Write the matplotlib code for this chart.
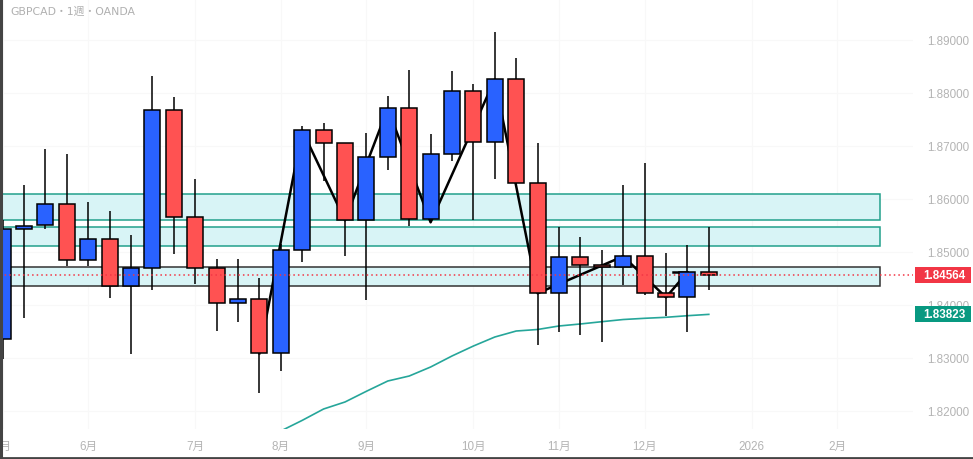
import matplotlib
matplotlib.use("Agg")
import matplotlib.pyplot as plt
from matplotlib.patches import Rectangle
from matplotlib.lines import Line2D
from matplotlib.ticker import FormatStrFormatter
import numpy as np

# GBPCAD weekly candles (OANDA), one per week from early May 2025
opens = [1.83353, 1.85428, 1.85504, 1.85900, 1.84843, 1.85240, 1.84353, 1.84698,
         1.87674, 1.85655, 1.84698, 1.84032, 1.84108, 1.83089, 1.85032, 1.87296,
         1.87051, 1.85598, 1.86787, 1.87711, 1.85617, 1.86843, 1.88032, 1.87070,
         1.88258, 1.86296, 1.84221, 1.84900, 1.84749, 1.84711, 1.84919, 1.84221,
         1.84145, 1.84617]
highs = [1.85604, 1.86264, 1.86943, 1.86849, 1.85943, 1.85774, 1.85321, 1.88315,
         1.87919, 1.86377, 1.84868, 1.84868, 1.84509, 1.85151, 1.87377, 1.87434,
         1.87057, 1.87245, 1.87943, 1.88434, 1.87226, 1.88415, 1.88170, 1.89151,
         1.88660, 1.87051, 1.85466, 1.85277, 1.85038, 1.86264, 1.86674, 1.84975,
         1.85132, 1.85466]
lows = [1.82981, 1.83760, 1.85428, 1.84730, 1.84742, 1.84138, 1.83081, 1.84289,
        1.84968, 1.84402, 1.83515, 1.83685, 1.82345, 1.82760, 1.84817, 1.86345,
        1.84930, 1.84094, 1.86553, 1.85496, 1.85590, 1.86717, 1.85609, 1.86383,
        1.86290, 1.83251, 1.83485, 1.83440, 1.83296, 1.84383, 1.84194, 1.83798,
        1.83485, 1.84289]
closes = [1.85428, 1.85496, 1.85900, 1.84843, 1.85240, 1.84353, 1.84698, 1.87674,
          1.85655, 1.84698, 1.84032, 1.84108, 1.83089, 1.85032, 1.87296, 1.87051,
          1.85598, 1.86787, 1.87711, 1.85617, 1.86843, 1.88032, 1.87070, 1.88258,
          1.86302, 1.84221, 1.84900, 1.84749, 1.84711, 1.84919, 1.84221, 1.84145,
          1.84617, 1.84564]

# moving average, starts at week 13
ma_start = 13
ma_values = [1.81623, 1.81823, 1.82038, 1.82170, 1.82372, 1.82566, 1.82660, 1.82830,
             1.83038, 1.83226, 1.83396, 1.83509, 1.83538, 1.83604, 1.83642, 1.83685,
             1.83726, 1.83749, 1.83768, 1.83798, 1.83823]

# zigzag swing points (week index, price)
zz_weeks = [12, 14, 16, 18, 20, 23, 25, 29, 31, 32]
zz_prices = [1.83089, 1.87296, 1.85598, 1.87711, 1.85560, 1.88258, 1.84221, 1.84919,
             1.84145, 1.84617]
zz_stub_weeks = [31.35, 32.0]
zz_stub_prices = [1.84630, 1.84630]

# support / resistance zones (top, bottom, border colour)
zone_tops = [1.86089, 1.85466, 1.84711]
zone_bottoms = [1.85598, 1.85108, 1.84353]
zone_edges = ["#22a08c", "#22a08c", "#333333"]
zone_end_week = 41.0

last_price = 1.84564

# time axis labels
month_weeks = [0, 4, 9, 13, 17, 22, 26, 30, 35, 39]
month_labels = ["5月", "6月", "7月", "8月", "9月", "10月", "11月", "12月", "2026", "2月"]
price_ticks = [1.82, 1.83, 1.84, 1.85, 1.86, 1.87, 1.88, 1.89]

plt.rcParams["font.family"] = ["Liberation Sans", "Noto Sans CJK JP"]

W, H = 973, 460
fig = plt.figure(figsize=(W / 100, H / 100), dpi=100)
fig.patch.set_facecolor("white")
pane_w, pane_h = 913, 430
ax = fig.add_axes([0, (H - pane_h) / H, pane_w / W, pane_h / H])
ax.set_facecolor("white")

weeks = np.arange(len(closes))
opens = np.array(opens)
closes = np.array(closes)

# zones
for top, bottom, edge in zip(zone_tops, zone_bottoms, zone_edges):
    ax.add_patch(Rectangle((-1, bottom), zone_end_week + 1, top - bottom,
                           facecolor="#d8f4f6", edgecolor=edge, lw=1.1, zorder=1))

# moving average and zigzag
ax.plot(np.arange(ma_start, ma_start + len(ma_values)), ma_values,
        color="#26a69a", lw=1.2, zorder=2)
ax.plot(zz_weeks, zz_prices, color="black", lw=1.8, zorder=2, solid_joinstyle="round")
ax.plot(zz_stub_weeks, zz_stub_prices, color="black", lw=1.8, zorder=2)

# candles
up = closes >= opens
colors = np.where(up, "#2962ff", "#ff5252")
ax.vlines(weeks, lows, highs, color="black", lw=1.1, zorder=3)
ax.bar(weeks, np.abs(closes - opens), bottom=np.minimum(opens, closes), width=0.75,
       color=colors, edgecolor="black", lw=1.1, zorder=4)

# last price line
ax.axhline(last_price, color="#f23645", lw=1.1, ls=(0, (1, 2)), zorder=5)

# axes limits matched to the screenshot
px_per_week = 21.4
x0 = 2.6
ax.set_xlim(-x0 / px_per_week, (pane_w - x0) / px_per_week)
ax.set_ylim(1.89 - 389 / 5300, 1.89 + 41 / 5300)

for s in ax.spines.values():
    s.set_visible(False)

ax.yaxis.tick_right()
ax.set_yticks(price_ticks)
ax.yaxis.set_major_formatter(FormatStrFormatter("%.5f"))
ax.tick_params(axis="y", length=0, pad=10, labelsize=8.4, labelcolor="#b4b4b4")
ax.set_xticks(month_weeks)
ax.set_xticklabels(month_labels)
ax.tick_params(axis="x", length=0, pad=8, labelsize=8.4, labelcolor="#b4b4b4")
ax.grid(True, color="#f8f8f8", lw=0.8, zorder=0)
ax.set_axisbelow(True)

# price labels on the scale
ytr = ax.get_yaxis_transform()
for price, col in [(last_price, "#f23645"), (ma_values[-1], "#089981")]:
    ax.add_patch(Rectangle((915 / pane_w, price - 8 / 5300), 56 / pane_w, 16 / 5300,
                           transform=ytr, facecolor=col, edgecolor="none",
                           clip_on=False, zorder=6))
    ax.text(944 / pane_w, price, f"{price:.5f}", transform=ytr, ha="center", va="center",
            color="white", fontsize=8.4, fontweight="bold", zorder=7, clip_on=False)

# title
fig.text(10 / W, 1 - 12 / H, "GBPCAD・1週・OANDA", ha="left", va="center",
         fontsize=7.8, color="#b0b0b0", family=["DejaVu Sans", "Noto Sans CJK JP"])

# window borders
fig.add_artist(Line2D([1 / W, 1 / W], [0, 1], color="#444444", lw=2.2))
fig.add_artist(Line2D([0, 1], [1.5 / H, 1.5 / H], color="#444444", lw=2.0))

fig.savefig("out.png", dpi=100)
